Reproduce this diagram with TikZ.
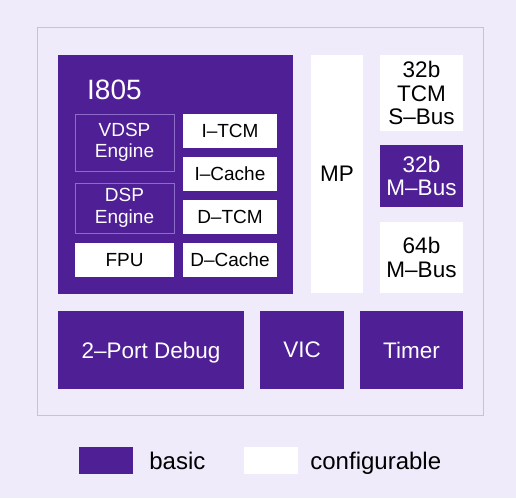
\documentclass[tikz,border=0pt]{standalone}
\usepackage{fontspec}
\setmainfont{Liberation Sans}
\usetikzlibrary{positioning}
\definecolor{corepurple}{HTML}{4F1F95}
\definecolor{bgpurple}{HTML}{EFEBFB}
\definecolor{framepurple}{HTML}{C8BCF0}
\definecolor{enginepurple}{HTML}{8C6BC9}

\begin{document}
\begin{tikzpicture}[x=1pt,y=-1pt,
  basic/.style={fill=corepurple,text=white,inner sep=0pt,align=center},
  config/.style={fill=white,text=black,inner sep=0pt,align=center},
  engine/.style={draw=enginepurple,line width=1pt,fill=corepurple,text=white,inner sep=0pt,align=center},
  small/.style={font=\fontsize{19}{21.5}\selectfont},
  big/.style={font=\fontsize{22.5}{23.5}\selectfont},
  keytext/.style={inner sep=0pt,text height=17pt,text depth=0pt,font=\fontsize{24}{26}\selectfont}]
%\draw[thin,gray!40] (0,0) grid[step=50] (516,498);
  \fill[bgpurple] (0,0) rectangle (516,498);
  \draw[framepurple,line width=1pt] (37,27) rectangle (483,415);

 % core
  \node[basic,minimum width=235pt,minimum height=239pt] (core) at (175.5,174.5) {};
  \node[anchor=base west,text=white,inner sep=0pt,font=\fontsize{28}{30}\selectfont] (corename) at (87,99) {I805};

  \node[engine,small,minimum width=99pt,minimum height=57pt] (vdsp) at (124.5,142.5) {VDSP\\Engine};
  \node[engine,small,minimum width=99pt,minimum height=50pt] (dsp) at (124.5,208) {DSP\\Engine};
  \node[config,small,minimum width=99pt,minimum height=34pt] (fpu) at (124.5,260) {FPU};

  \node[config,small,minimum width=94pt,minimum height=34pt] (itcm) at (230,131) {I--TCM};
  \node[config,small,minimum width=94pt,minimum height=34pt] (icache) at (230,174) {I--Cache};
  \node[config,small,minimum width=94pt,minimum height=34pt] (dtcm) at (230,217) {D--TCM};
  \node[config,small,minimum width=94pt,minimum height=34pt] (dcache) at (230,260) {D--Cache};

 % buses
  \node[config,big,minimum width=52pt,minimum height=238pt] (mp) at (337,174) {MP};
  \node[config,big,minimum width=83pt,minimum height=76pt] (sbus) at (421.5,93) {32b\\TCM\\S--Bus};
  \node[basic,big,minimum width=83pt,minimum height=62pt] (mbus32) at (421.5,176) {32b\\M--Bus};
  \node[config,big,minimum width=83pt,minimum height=71pt] (mbus64) at (421.5,257.5) {64b\\M--Bus};

 % bottom row
  \node[basic,big,text depth=0pt,minimum width=186pt,minimum height=78pt] (debug) at (151,350) {2--Port Debug};
  \node[basic,big,minimum width=84pt,minimum height=78pt] (vic) at (302,350) {VIC};
  \node[basic,big,minimum width=103pt,minimum height=78pt] (timer) at (411.5,350) {Timer};

 % legend
  \node[basic,minimum width=54pt,minimum height=27pt] (basickey) at (106,460.5) {};
  \node[right=16pt of basickey,keytext] (basiclabel) {basic};
  \node[config,minimum width=54pt,minimum height=27pt] (configkey) at (271,460.5) {};
  \node[right=12pt of configkey,keytext] (configlabel) {configurable};
\end{tikzpicture}
\end{document}
